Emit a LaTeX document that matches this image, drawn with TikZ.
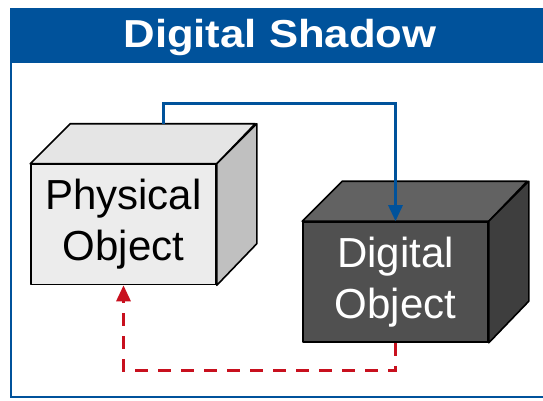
\documentclass[tikz,border=0pt]{standalone}
\usepackage{fontspec}
\setmainfont{Liberation Sans}
\usetikzlibrary{arrows.meta}

\definecolor{dsblue}{RGB}{0,82,155}
\definecolor{dsred}{RGB}{200,16,30}
\definecolor{physfront}{RGB}{236,236,236}
\definecolor{phystop}{RGB}{229,229,229}
\definecolor{physside}{RGB}{192,192,192}
\definecolor{digfront}{RGB}{80,80,80}
\definecolor{digtop}{RGB}{98,98,98}
\definecolor{digside}{RGB}{62,62,62}

\tikzset{
  face/.style={draw=black, line width=1.6pt, line join=round},
  box/.style={face, minimum width=185pt, minimum height=120pt, inner sep=0pt,
    align=center, font=\fontsize{42}{51}\selectfont},
  dataflow/.style={draw=dsblue, line width=3pt, -{Triangle[width=14pt,length=16pt]}},
  feedback/.style={draw=dsred, line width=3pt, dash pattern=on 13pt off 10pt,
    -{Triangle[width=14pt,length=16pt]}}
}

% top and side of a box: node, top colour, side colour
\newcommand{\cubefaces}[3]{%
  \draw[face, fill=#2] (#1.north west) -- ++(40,-40) -- ++(185,0) -- (#1.north east) -- cycle;
  \draw[face, fill=#3] (#1.north east) -- ++(40,-40) -- ++(0,120) -- (#1.south east) -- cycle;
}

\begin{document}
\begin{tikzpicture}[x=1pt,y=-1pt]

\clip (0,0) rectangle (543,400);
\fill[white] (0,0) rectangle (543,400);

% frame and title band
\draw[dsblue, line width=2.4pt] (11,8) -- (11,397) -- (560,397);
\fill[dsblue] (10,8) rectangle (560,63);
\node[anchor=base, text=white, font=\bfseries\fontsize{39}{41}\selectfont, xscale=1.12]
  (title) at (280,47) {Digital Shadow};

% physical object
\node[box, fill=physfront] (phys) at (123.5,224.5) {Physical\\Object};
\cubefaces{phys}{phystop}{physside}

% digital object
\node[box, fill=digfront, text=white] (dig) at (395.5,282) {Digital\\Object};
\cubefaces{dig}{digtop}{digside}

% connectors
\coordinate (physback) at ([shift={(40,-40)}]phys.north);
\draw[dataflow] (physback) -- ++(0,-20) -| (dig.north);
\draw[feedback] (dig.south) -- ++(0,28) -| (phys.south);

\end{tikzpicture}
\end{document}
